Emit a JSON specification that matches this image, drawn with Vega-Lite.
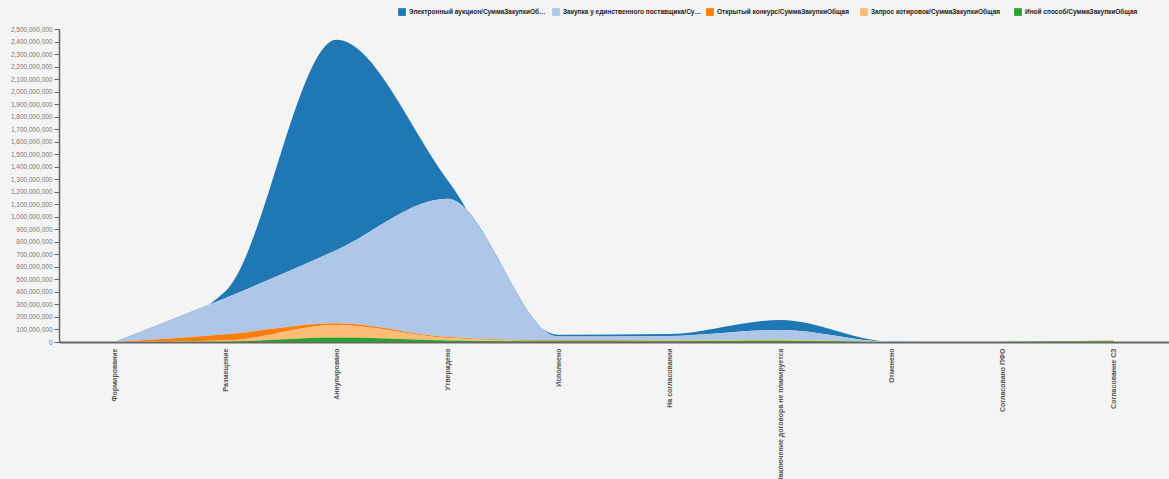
{
  "$schema": "https://vega.github.io/schema/vega-lite/v6.json",
  "autosize": "none",
  "width": 1110,
  "height": 313,
  "padding": {"left": 59, "top": 29, "right": 0, "bottom": 137},
  "background": "#f4f4f4",
  "config": {
    "view": {"stroke": null},
    "font": "Liberation Sans"
  },
  "data": {
    "values": [
      {"cat": "Формирование", "series": "Электронный аукцион/СуммаЗакупкиОбщая", "ord": 5, "value": 0},
      {"cat": "Формирование", "series": "Закупка у единственного поставщика/СуммаЗакупкиОбщая", "ord": 4, "value": 0},
      {"cat": "Формирование", "series": "Открытый конкурс/СуммаЗакупкиОбщая", "ord": 3, "value": 0},
      {"cat": "Формирование", "series": "Запрос котировок/СуммаЗакупкиОбщая", "ord": 2, "value": 0},
      {"cat": "Формирование", "series": "Иной способ/СуммаЗакупкиОбщая", "ord": 1, "value": 0},

      {"cat": "Размещение", "series": "Электронный аукцион/СуммаЗакупкиОбщая", "ord": 5, "value": 55000000},
      {"cat": "Размещение", "series": "Закупка у единственного поставщика/СуммаЗакупкиОбщая", "ord": 4, "value": 290000000},
      {"cat": "Размещение", "series": "Открытый конкурс/СуммаЗакупкиОбщая", "ord": 3, "value": 50000000},
      {"cat": "Размещение", "series": "Запрос котировок/СуммаЗакупкиОбщая", "ord": 2, "value": 8000000},
      {"cat": "Размещение", "series": "Иной способ/СуммаЗакупкиОбщая", "ord": 1, "value": 3000000},

      {"cat": "Аннулировано", "series": "Электронный аукцион/СуммаЗакупкиОбщая", "ord": 5, "value": 1680000000},
      {"cat": "Аннулировано", "series": "Закупка у единственного поставщика/СуммаЗакупкиОбщая", "ord": 4, "value": 584000000},
      {"cat": "Аннулировано", "series": "Открытый конкурс/СуммаЗакупкиОбщая", "ord": 3, "value": 15000000},
      {"cat": "Аннулировано", "series": "Запрос котировок/СуммаЗакупкиОбщая", "ord": 2, "value": 100000000},
      {"cat": "Аннулировано", "series": "Иной способ/СуммаЗакупкиОбщая", "ord": 1, "value": 35000000},

      {"cat": "Утверждено", "series": "Электронный аукцион/СуммаЗакупкиОбщая", "ord": 5, "value": 150000000},
      {"cat": "Утверждено", "series": "Закупка у единственного поставщика/СуммаЗакупкиОбщая", "ord": 4, "value": 1104000000},
      {"cat": "Утверждено", "series": "Открытый конкурс/СуммаЗакупкиОбщая", "ord": 3, "value": 8000000},
      {"cat": "Утверждено", "series": "Запрос котировок/СуммаЗакупкиОбщая", "ord": 2, "value": 20000000},
      {"cat": "Утверждено", "series": "Иной способ/СуммаЗакупкиОбщая", "ord": 1, "value": 12000000},

      {"cat": "Исполнено", "series": "Электронный аукцион/СуммаЗакупкиОбщая", "ord": 5, "value": 15000000},
      {"cat": "Исполнено", "series": "Закупка у единственного поставщика/СуммаЗакупкиОбщая", "ord": 4, "value": 30000000},
      {"cat": "Исполнено", "series": "Открытый конкурс/СуммаЗакупкиОбщая", "ord": 3, "value": 5000000},
      {"cat": "Исполнено", "series": "Запрос котировок/СуммаЗакупкиОбщая", "ord": 2, "value": 3000000},
      {"cat": "Исполнено", "series": "Иной способ/СуммаЗакупкиОбщая", "ord": 1, "value": 5000000},

      {"cat": "На согласовании", "series": "Электронный аукцион/СуммаЗакупкиОбщая", "ord": 5, "value": 16000000},
      {"cat": "На согласовании", "series": "Закупка у единственного поставщика/СуммаЗакупкиОбщая", "ord": 4, "value": 35000000},
      {"cat": "На согласовании", "series": "Открытый конкурс/СуммаЗакупкиОбщая", "ord": 3, "value": 3000000},
      {"cat": "На согласовании", "series": "Запрос котировок/СуммаЗакупкиОбщая", "ord": 2, "value": 5000000},
      {"cat": "На согласовании", "series": "Иной способ/СуммаЗакупкиОбщая", "ord": 1, "value": 5000000},

      {"cat": "Заключение договора не планируется", "series": "Электронный аукцион/СуммаЗакупкиОбщая", "ord": 5, "value": 80000000},
      {"cat": "Заключение договора не планируется", "series": "Закупка у единственного поставщика/СуммаЗакупкиОбщая", "ord": 4, "value": 78000000},
      {"cat": "Заключение договора не планируется", "series": "Открытый конкурс/СуммаЗакупкиОбщая", "ord": 3, "value": 3000000},
      {"cat": "Заключение договора не планируется", "series": "Запрос котировок/СуммаЗакупкиОбщая", "ord": 2, "value": 5000000},
      {"cat": "Заключение договора не планируется", "series": "Иной способ/СуммаЗакупкиОбщая", "ord": 1, "value": 10000000},

      {"cat": "Отменено", "series": "Электронный аукцион/СуммаЗакупкиОбщая", "ord": 5, "value": 1000000},
      {"cat": "Отменено", "series": "Закупка у единственного поставщика/СуммаЗакупкиОбщая", "ord": 4, "value": 1000000},
      {"cat": "Отменено", "series": "Открытый конкурс/СуммаЗакупкиОбщая", "ord": 3, "value": 0},
      {"cat": "Отменено", "series": "Запрос котировок/СуммаЗакупкиОбщая", "ord": 2, "value": 0},
      {"cat": "Отменено", "series": "Иной способ/СуммаЗакупкиОбщая", "ord": 1, "value": 1000000},

      {"cat": "Согласовано ПФО", "series": "Электронный аукцион/СуммаЗакупкиОбщая", "ord": 5, "value": 0},
      {"cat": "Согласовано ПФО", "series": "Закупка у единственного поставщика/СуммаЗакупкиОбщая", "ord": 4, "value": 0},
      {"cat": "Согласовано ПФО", "series": "Открытый конкурс/СуммаЗакупкиОбщая", "ord": 3, "value": 0},
      {"cat": "Согласовано ПФО", "series": "Запрос котировок/СуммаЗакупкиОбщая", "ord": 2, "value": 0},
      {"cat": "Согласовано ПФО", "series": "Иной способ/СуммаЗакупкиОбщая", "ord": 1, "value": 1000000},

      {"cat": "Согласование СЗ", "series": "Электронный аукцион/СуммаЗакупкиОбщая", "ord": 5, "value": 0},
      {"cat": "Согласование СЗ", "series": "Закупка у единственного поставщика/СуммаЗакупкиОбщая", "ord": 4, "value": 2000000},
      {"cat": "Согласование СЗ", "series": "Открытый конкурс/СуммаЗакупкиОбщая", "ord": 3, "value": 2000000},
      {"cat": "Согласование СЗ", "series": "Запрос котировок/СуммаЗакупкиОбщая", "ord": 2, "value": 5000000},
      {"cat": "Согласование СЗ", "series": "Иной способ/СуммаЗакупкиОбщая", "ord": 1, "value": 5000000}
    ]
  },
  "mark": {"type": "area", "interpolate": "monotone", "opacity": 1},
  "encoding": {
    "x": {
      "field": "cat",
      "type": "nominal",
      "sort": null,
      "scale": {"padding": 0.5},
      "axis": {
        "title": null,
        "labelAngle": -90,
        "labelFontSize": 7,
        "labelFontWeight": "bold",
        "labelColor": "#555555",
        "labelLimit": 200,
        "labelPadding": 6,
        "ticks": false,
        "domainColor": "#666666",
        "domainWidth": 2
      }
    },
    "y": {
      "field": "value",
      "type": "quantitative",
      "stack": "zero",
      "scale": {"domain": [0, 2500000000], "nice": false},
      "axis": {
        "title": null,
        "format": ",d",
        "tickCount": 25,
        "grid": false,
        "labelFontSize": 6.5,
        "labelColor": "#777777",
        "tickColor": "#666666",
        "tickSize": 5,
        "domainColor": "#666666",
        "domainWidth": 1.5
      }
    },
    "color": {
      "field": "series",
      "type": "nominal",
      "scale": {
        "domain": [
          "Электронный аукцион/СуммаЗакупкиОбщая",
          "Закупка у единственного поставщика/СуммаЗакупкиОбщая",
          "Открытый конкурс/СуммаЗакупкиОбщая",
          "Запрос котировок/СуммаЗакупкиОбщая",
          "Иной способ/СуммаЗакупкиОбщая"
        ],
        "range": ["#1f77b4", "#aec7e8", "#ff7f0e", "#ffbb78", "#2ca02c"]
      },
      "legend": {
        "title": null,
        "orient": "none",
        "direction": "horizontal",
        "legendX": 338,
        "legendY": -22,
        "symbolType": "square",
        "symbolSize": 60,
        "symbolOpacity": 1,
        "labelFontSize": 6.5,
        "labelFontWeight": "bold",
        "labelColor": "#222222",
        "labelLimit": 140,
        "labelOffset": 2,
        "columnPadding": 4,
        "columns": 5,
        "gridAlign": "all"
      }
    },
    "order": {"field": "ord", "type": "quantitative"}
  }
}
